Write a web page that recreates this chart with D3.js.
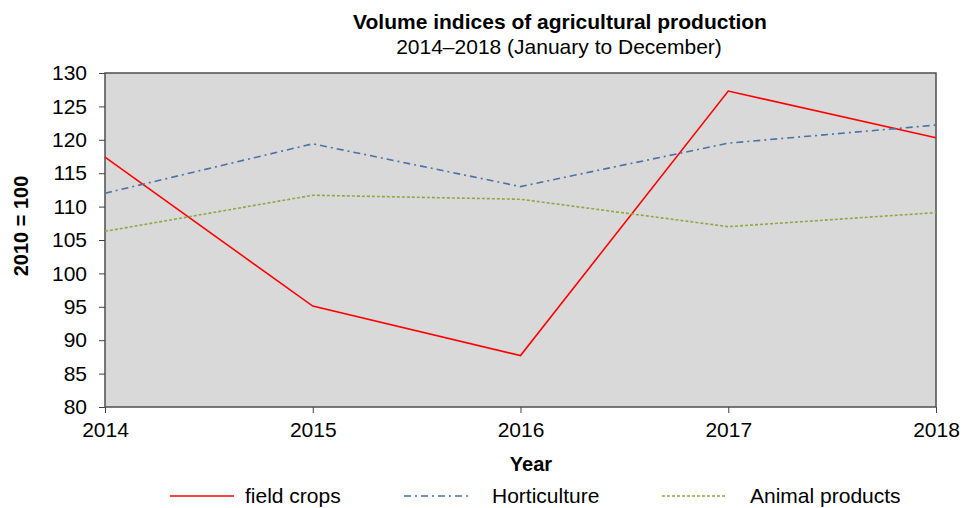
<html>
  <head>
    <script src="https://d3js.org/d3.v7.min.js"></script>
    <style>
      body { margin: 0; background: #fff; }
      text { font-family: "Liberation Sans", Arial, sans-serif; fill: #000; }
    </style>
  </head>
  <body>
    <script>
      // chart data
      var years = [2014, 2015, 2016, 2017, 2018];
      var fieldCrops = [117.4, 95.1, 87.7, 127.3, 120.3];
      var horticulture = [112.0, 119.4, 113.0, 119.5, 122.2];
      var animalProducts = [106.3, 111.7, 111.1, 107.0, 109.1];
      var yTicks = [80, 85, 90, 95, 100, 105, 110, 115, 120, 125, 130];

      var series = [
        { name: "field crops", values: fieldCrops, color: "#ff0000", dash: null, width: 1.6 },
        { name: "Horticulture", values: horticulture, color: "#4a72a8", dash: "7,4,2,4", width: 1.6 },
        { name: "Animal products", values: animalProducts, color: "#8fa842", dash: "3,2", width: 1.6 }
      ];

      var width = 964, height = 508;
      var margin = { left: 105, right: 28, top: 73, bottom: 101 };

      var svg = d3.select("body").append("svg")
        .attr("width", width)
        .attr("height", height);

      var x = d3.scaleLinear()
        .domain([years[0], years[years.length - 1]])
        .range([margin.left, width - margin.right]);

      var y = d3.scaleLinear()
        .domain([80, 130])
        .range([height - margin.bottom, margin.top]);

      // plot background
      svg.append("rect")
        .attr("x", margin.left)
        .attr("y", margin.top)
        .attr("width", x.range()[1] - x.range()[0])
        .attr("height", y.range()[0] - y.range()[1])
        .attr("fill", "#d9d9d9");

      // axes
      var xAxis = svg.append("g")
        .attr("transform", "translate(0," + (height - margin.bottom) + ")")
        .call(d3.axisBottom(x).tickValues(years).tickFormat(d3.format("d")).tickSize(6).tickPadding(9));

      var yAxis = svg.append("g")
        .attr("transform", "translate(" + margin.left + ",0)")
        .call(d3.axisLeft(y).tickValues(yTicks).tickSize(6).tickPadding(12));

      [xAxis, yAxis].forEach(function (g) {
        g.select(".domain").remove();
        g.selectAll("line").attr("stroke", "#404040");
        g.selectAll("text").style("font-size", "21px").attr("fill", "#000");
      });

      // frame
      svg.append("rect")
        .attr("x", margin.left)
        .attr("y", margin.top)
        .attr("width", x.range()[1] - x.range()[0])
        .attr("height", y.range()[0] - y.range()[1])
        .attr("fill", "none")
        .attr("stroke", "#4d4d4d")
        .attr("stroke-width", 1.5);

      var line = d3.line()
        .x(function (d, i) { return x(years[i]); })
        .y(function (d) { return y(d); });

      svg.append("g")
        .selectAll("path")
        .data(series)
        .enter().append("path")
        .attr("d", function (d) { return line(d.values); })
        .attr("fill", "none")
        .attr("stroke", function (d) { return d.color; })
        .attr("stroke-width", function (d) { return d.width; })
        .attr("stroke-dasharray", function (d) { return d.dash; });

      // titles
      svg.append("text")
        .attr("x", 560).attr("y", 29)
        .attr("text-anchor", "middle")
        .style("font-size", "21px").style("font-weight", "bold")
        .text("Volume indices of agricultural production");

      svg.append("text")
        .attr("x", 559).attr("y", 54)
        .attr("text-anchor", "middle")
        .style("font-size", "21px")
        .text("2014\u20132018 (January to December)");

      svg.append("text")
        .attr("x", 531).attr("y", 471)
        .attr("text-anchor", "middle")
        .style("font-size", "20px").style("font-weight", "bold")
        .text("Year");

      svg.append("text")
        .attr("transform", "translate(28,226) rotate(-90)")
        .attr("text-anchor", "middle")
        .style("font-size", "20px").style("font-weight", "bold")
        .text("2010 = 100");

      // legend
      var keyX = [170, 404, 662];
      var textX = [245, 492, 750];
      var legend = svg.append("g")
        .selectAll("g")
        .data(series)
        .enter().append("g");

      legend.append("line")
        .attr("x1", function (d, i) { return keyX[i]; })
        .attr("x2", function (d, i) { return keyX[i] + 64; })
        .attr("y1", 496).attr("y2", 496)
        .attr("stroke", function (d) { return d.color; })
        .attr("stroke-width", function (d) { return d.width; })
        .attr("stroke-dasharray", function (d) { return d.dash; });

      legend.append("text")
        .attr("x", function (d, i) { return textX[i]; })
        .attr("y", 503)
        .style("font-size", "21px")
        .text(function (d) { return d.name; });
    </script>
  </body>
</html>
